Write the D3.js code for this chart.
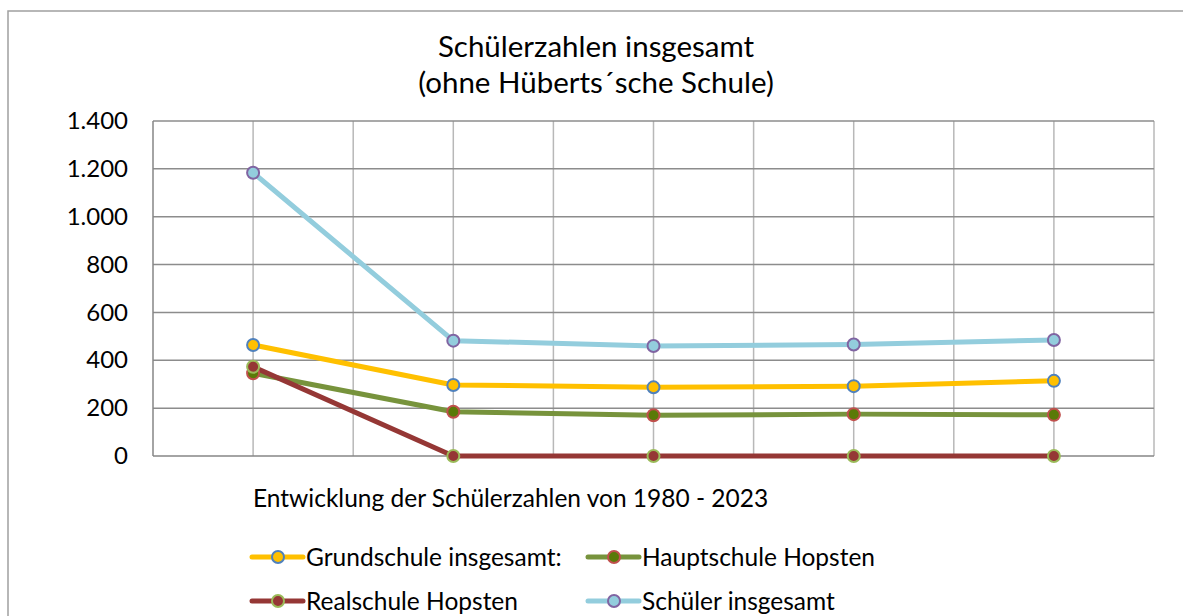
<!DOCTYPE html>
<html>
<head>
<meta charset="utf-8">
<script src="https://cdn.jsdelivr.net/npm/d3@7"></script>
<style>
  body { margin: 0; background: #fff; }
  svg { display: block; font-family: Lato, "Open Sans", sans-serif; }
</style>
</head>
<body>
<div id="chart"></div>
<script>
// categories (no labels shown on the axis of the original)
const categories = ["1980", "1990", "2000", "2010", "2023"];
const grundschule = [464, 297, 287, 292, 314];
const hauptschule = [346, 185, 170, 175, 172];
const realschule = [373, 0, 0, 0, 0];
const schuelerGesamt = [1184, 482, 460, 466, 485];
const yTicks = [0, 200, 400, 600, 800, 1000, 1200, 1400];
const seriesNames = ["Grundschule insgesamt:", "Hauptschule Hopsten", "Realschule Hopsten", "Schüler insgesamt"];

const width = 1183, height = 616;
const margin = { top: 121, right: 29, bottom: 160, left: 153 };

const series = [
  { name: seriesNames[0], values: grundschule, line: "#FFC000", fill: "#FFC000", stroke: "#4F81BD" },
  { name: seriesNames[1], values: hauptschule, line: "#77933C", fill: "#5A7A08", stroke: "#C0504D" },
  { name: seriesNames[2], values: realschule, line: "#953735", fill: "#953735", stroke: "#9BBB59" },
  { name: seriesNames[3], values: schuelerGesamt, line: "#93CDDD", fill: "#93CDDD", stroke: "#8064A2" }
];

const svg = d3.select("#chart").append("svg")
  .attr("width", width)
  .attr("height", height);

// chart frame
svg.append("rect")
  .attr("x", 8).attr("y", 11)
  .attr("width", width + 20).attr("height", height)
  .attr("fill", "none")
  .attr("stroke", "#A0A0A0")
  .attr("stroke-width", 1.5);

const x = d3.scaleBand()
  .domain(categories)
  .range([margin.left, width - margin.right]);

const y = d3.scaleLinear()
  .domain([0, 1400])
  .range([height - margin.bottom, margin.top]);

// vertical gridlines: at band edges and band centres
const vLines = [];
categories.forEach(c => {
  vLines.push(x(c));
  vLines.push(x(c) + x.bandwidth() / 2);
});
vLines.push(x.range()[1]);

svg.append("g")
  .selectAll("line")
  .data(vLines.slice(1))
  .join("line")
  .attr("x1", d => d).attr("x2", d => d)
  .attr("y1", y(1400)).attr("y2", y(0))
  .attr("stroke", "#B8B8B8")
  .attr("stroke-width", 1.5);

// horizontal gridlines
svg.append("g")
  .selectAll("line")
  .data(yTicks.slice(1))
  .join("line")
  .attr("x1", margin.left).attr("x2", x.range()[1])
  .attr("y1", d => y(d)).attr("y2", d => y(d))
  .attr("stroke", "#8C8C8C")
  .attr("stroke-width", 1.5);

// y axis
const yAxis = svg.append("g")
  .attr("transform", `translate(${margin.left},0)`)
  .call(d3.axisLeft(y)
    .tickValues(yTicks)
    .tickSize(0)
    .tickPadding(25)
    .tickFormat(d => d3.format(",")(d).replace(/,/g, ".")));
yAxis.select(".domain").attr("stroke", "#868686").attr("stroke-width", 1.5)
  .attr("d", `M0,${y(1400)}V${y(0)}`);
yAxis.selectAll(".tick text")
  .attr("font-family", "Lato, sans-serif")
  .attr("font-size", 24)
  .attr("fill", "#000");

// x axis line
svg.append("line")
  .attr("x1", margin.left).attr("x2", x.range()[1])
  .attr("y1", y(0)).attr("y2", y(0))
  .attr("stroke", "#868686")
  .attr("stroke-width", 1.5);

// lines and markers
const line = d3.line()
  .x((d, i) => x(categories[i]) + x.bandwidth() / 2)
  .y(d => y(d));

const g = svg.append("g");
series.forEach(s => {
  g.append("path")
    .datum(s.values)
    .attr("d", line)
    .attr("fill", "none")
    .attr("stroke", s.line)
    .attr("stroke-width", 5)
    .attr("stroke-linejoin", "round");
});
series.forEach(s => {
  g.append("g")
    .selectAll("circle")
    .data(s.values)
    .join("circle")
    .attr("cx", (d, i) => x(categories[i]) + x.bandwidth() / 2)
    .attr("cy", d => y(d))
    .attr("r", 6)
    .attr("fill", s.fill)
    .attr("stroke", s.stroke)
    .attr("stroke-width", 2);
});

// title
svg.append("text")
  .attr("x", 596).attr("y", 57)
  .attr("text-anchor", "middle")
  .attr("font-size", 29.5)
  .text("Schülerzahlen insgesamt");
svg.append("text")
  .attr("x", 596).attr("y", 93)
  .attr("text-anchor", "middle")
  .attr("font-size", 29.5)
  .text("(ohne Hüberts´sche Schule)");

// axis title
svg.append("text")
  .attr("x", 253).attr("y", 507)
  .attr("font-size", 24.5)
  .text("Entwicklung der Schülerzahlen von 1980 - 2023");

// legend
const legendPos = [[252, 557], [588, 557], [252, 601], [588, 601]];
const legend = svg.append("g")
  .selectAll("g")
  .data(series)
  .join("g")
  .attr("transform", (d, i) => `translate(${legendPos[i][0]},${legendPos[i][1]})`);
legend.append("line")
  .attr("x1", 0).attr("x2", 51)
  .attr("stroke", d => d.line)
  .attr("stroke-width", 5)
  .attr("stroke-linecap", "round");
legend.append("circle")
  .attr("cx", 26)
  .attr("r", 6)
  .attr("fill", d => d.fill)
  .attr("stroke", d => d.stroke)
  .attr("stroke-width", 2);
legend.append("text")
  .attr("x", 54).attr("y", 8.5)
  .attr("font-size", 24.5)
  .text(d => d.name);
</script>
</body>
</html>
